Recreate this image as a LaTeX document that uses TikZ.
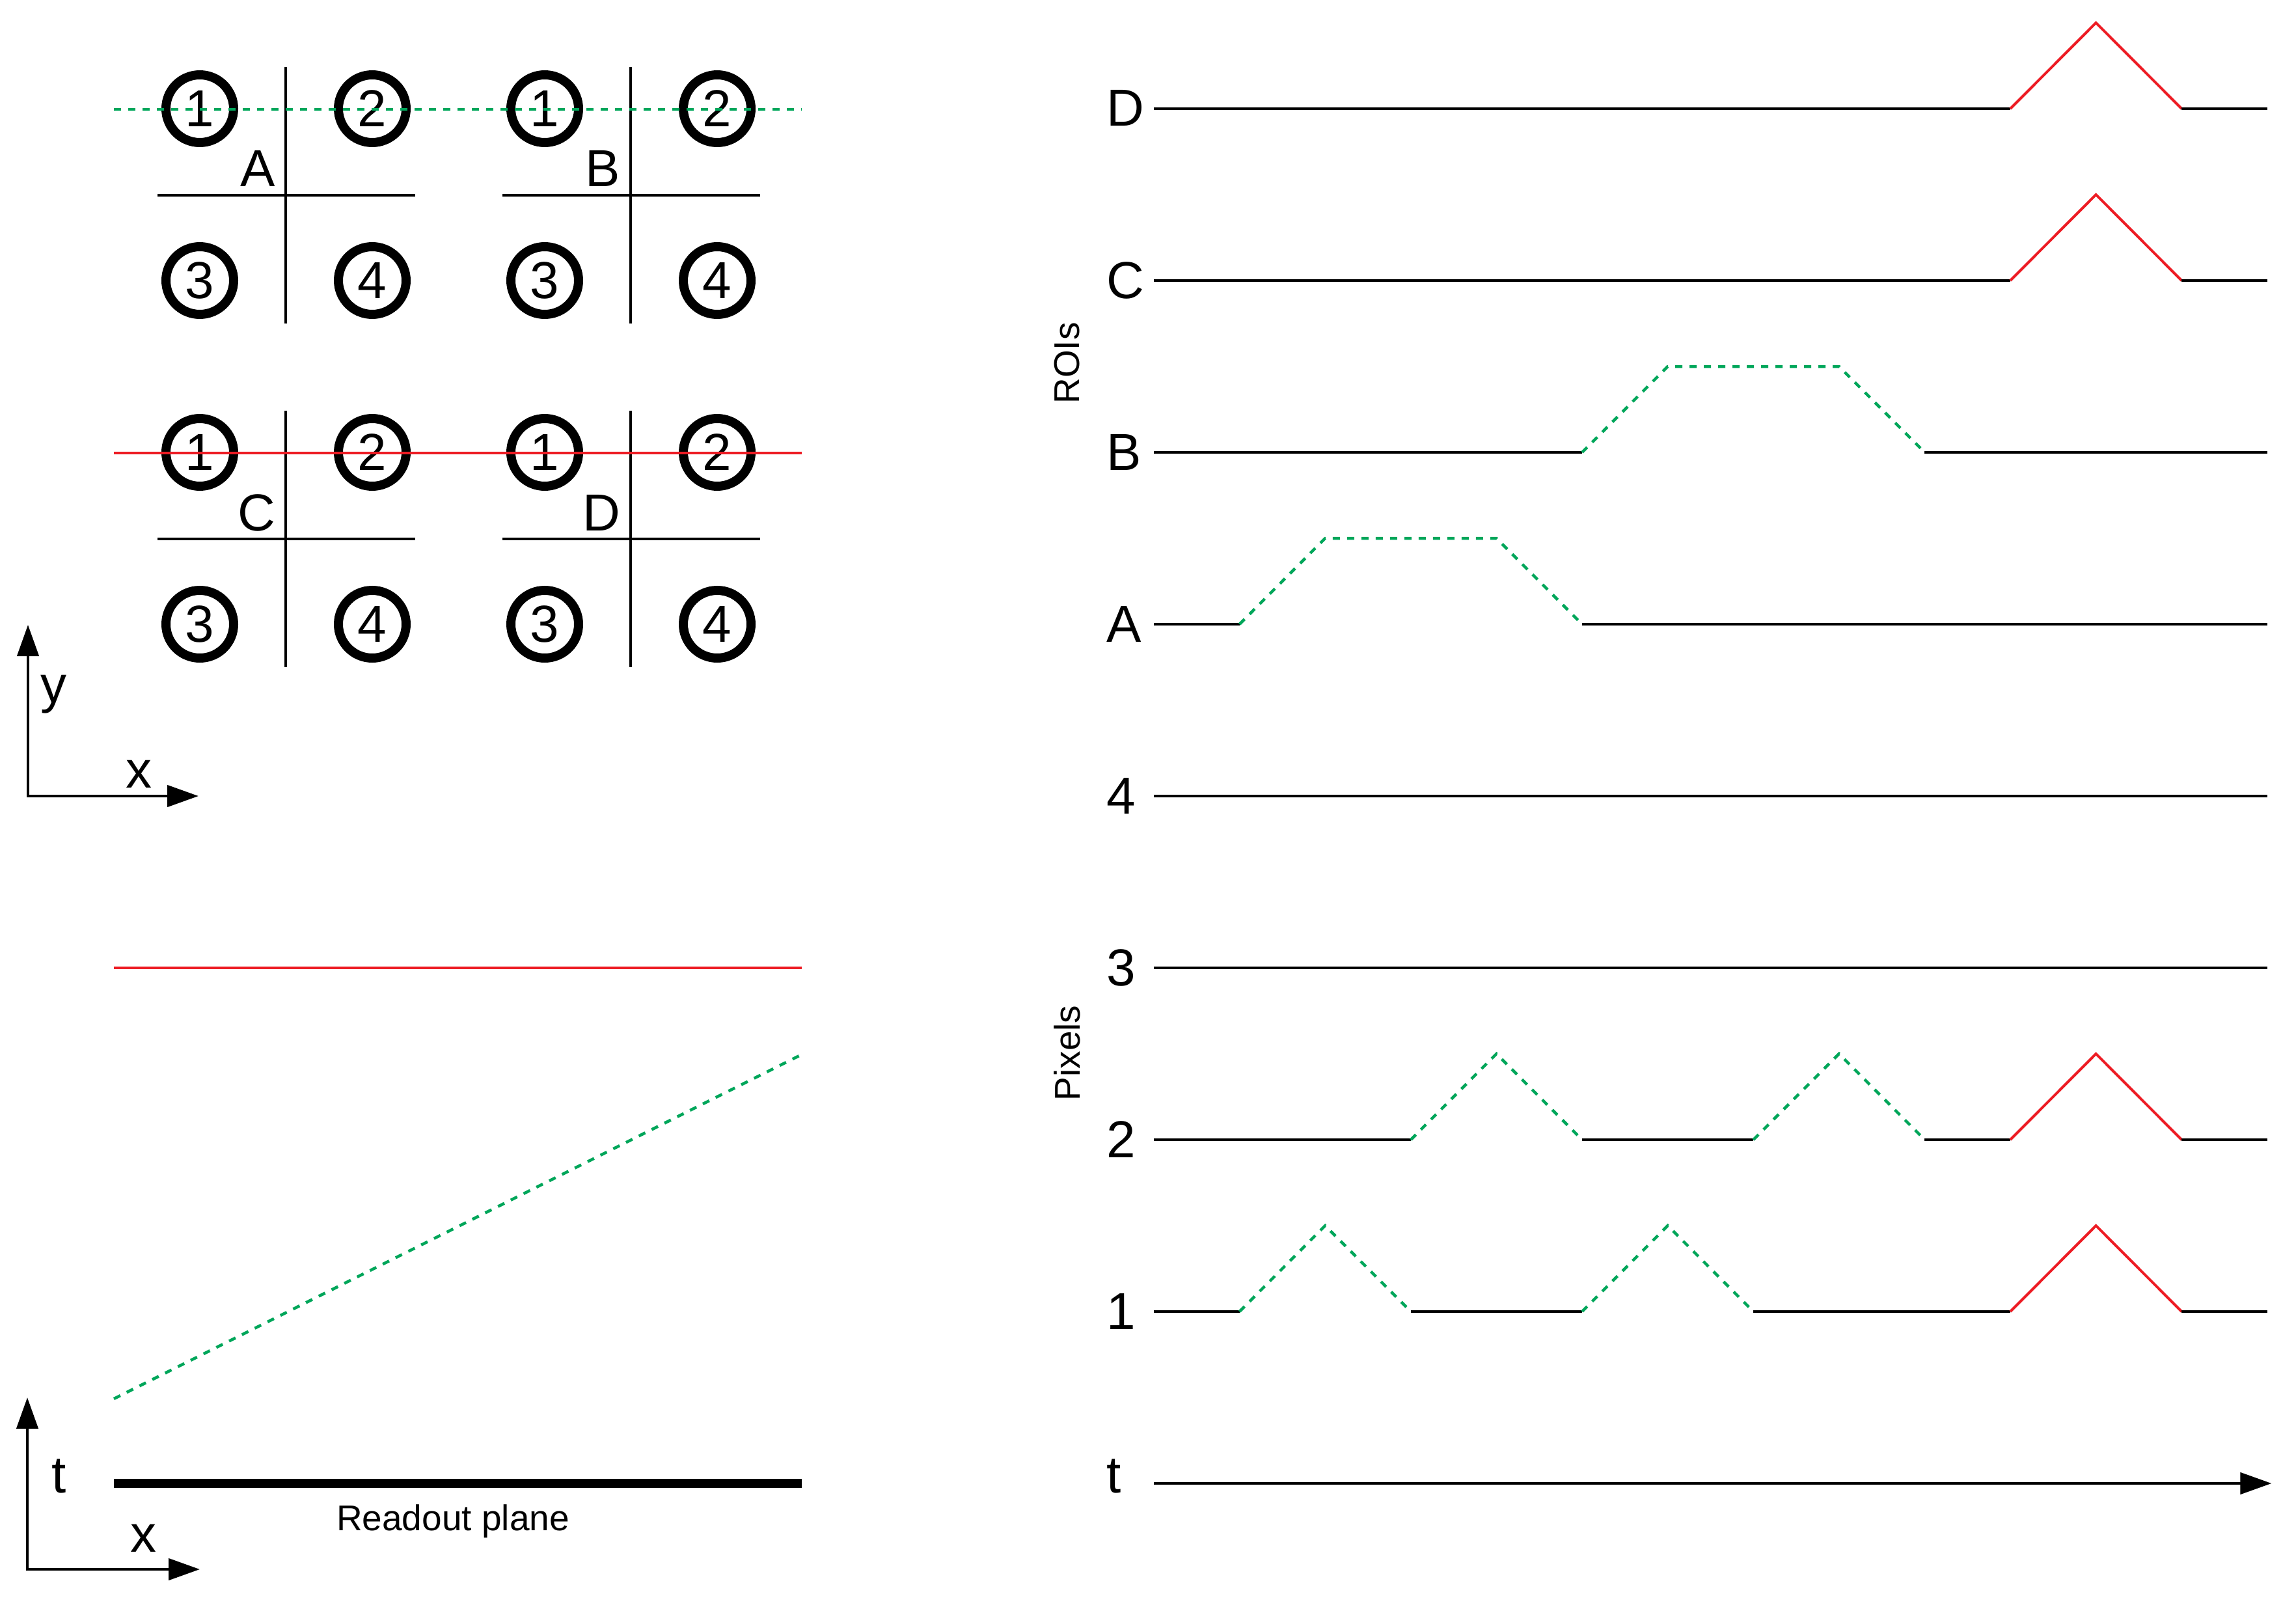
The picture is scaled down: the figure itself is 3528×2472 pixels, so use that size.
\documentclass[tikz,border=0pt]{standalone}
\usepackage{fontspec}
\setmainfont{Liberation Sans}
\usetikzlibrary{arrows.meta}
\definecolor{grn}{RGB}{0,166,90}
\definecolor{rd}{RGB}{237,28,36}
\begin{document}
\begin{tikzpicture}[x=1pt,y=-1pt,
  blk/.style={line width=4.5pt,black},
  grnline/.style={line width=4.5pt,grn,dash pattern=on 11pt off 11pt},
  redline/.style={line width=4pt,rd},
  pix/.style={circle,draw,line width=14pt,minimum size=104pt,inner sep=0pt,font=\fontsize{80}{80}\selectfont},
  lbl/.style={font=\fontsize{80}{80}\selectfont,inner sep=0pt},
  small/.style={font=\fontsize{55}{55}\selectfont,inner sep=0pt},
  axis/.style={line width=4.5pt,{Triangle[length=48pt,width=33pt]}-{Triangle[length=48pt,width=33pt]}},
  arr/.style={line width=4.5pt,-{Triangle[length=48pt,width=33pt]}},
]
\useasboundingbox (0,0) rectangle (3528,2472);

% ---- left: pixel grids ----
\foreach \b/\x/\y in {A/307/167, B/837/167, C/307/695, D/837/695} {
  \node[pix] (\b1) at (\x,\y) {1};
  \node[pix] (\b2) at (\x+265,\y) {2};
  \node[pix] (\b3) at (\x,\y+264) {3};
  \node[pix] (\b4) at (\x+265,\y+264) {4};
  \draw[blk] (\x+132,\y-64) -- (\x+132,\y+330);
  \draw[blk] (\x-65,\y+133) -- (\x+331,\y+133);
  \node[lbl,anchor=base east] (lab\b) at (\x+116,\y+120) {\b};
}
\draw[grnline] (175,168) -- (1232,168);
\draw[redline] (175,696) -- (1232,696);

% top axes
\coordinate (ytip) at (43,960);
\coordinate (o1) at (43,1223);
\coordinate (xtip) at (305,1223);
\draw[axis] (ytip) -- (o1) -- (xtip);
\node[lbl,anchor=base west] (ylab) at (62,1079) {y};
\node[lbl,anchor=base west] (xlab) at (193,1210) {x};

% ---- left bottom: x-t view ----
\draw[redline] (175,1487) -- (1232,1487);
\draw[grnline] (175,2149) -- (1232,1620);
\coordinate (rp1) at (175,2279);
\coordinate (rp2) at (1232,2279);
\draw[line width=14pt] (rp1) -- (rp2);
\node[small,anchor=base] (readout) at (696,2351) {Readout plane};

\coordinate (ttip) at (42,2147);
\coordinate (o2) at (42,2411);
\coordinate (x2tip) at (307,2411);
\draw[axis] (ttip) -- (o2) -- (x2tip);
\node[lbl,anchor=base west] (tlab) at (79,2293) {t};
\node[lbl,anchor=base west] (x2lab) at (200,2384) {x};

% ---- right: signals ----
\node[small,rotate=90] (rois) at (1640,558) {ROIs};
\node[small,rotate=90] (pixels) at (1640,1618) {Pixels};
\foreach \n/\y in {D/167, C/431, B/695, A/959, 4/1223, 3/1487, 2/1751, 1/2015} {
  \node[lbl,anchor=base west] (r\n) at (1700,\y+27) {\n};
}
\node[lbl,anchor=base west] (rt) at (1700,2293) {t};

\begin{scope}[shift={(1773,0)},x=131.6pt]
  % D
  \draw[blk] (0,167) -- (10,167);
  \draw[redline] (10,167) -- (11,35) -- (12,167);
  \draw[blk] (12,167) -- (13,167);
  % C
  \draw[blk] (0,431) -- (10,431);
  \draw[redline] (10,431) -- (11,299) -- (12,431);
  \draw[blk] (12,431) -- (13,431);
  % B
  \draw[blk] (0,695) -- (5,695);
  \draw[grnline] (5,695) -- (6,563) -- (8,563) -- (9,695);
  \draw[blk] (9,695) -- (13,695);
  % A
  \draw[blk] (0,959) -- (1,959);
  \draw[grnline] (1,959) -- (2,827) -- (4,827) -- (5,959);
  \draw[blk] (5,959) -- (13,959);
  % 4, 3
  \draw[blk] (0,1223) -- (13,1223);
  \draw[blk] (0,1487) -- (13,1487);
  % 2
  \draw[blk] (0,1751) -- (3,1751);
  \draw[grnline] (3,1751) -- (4,1619) -- (5,1751);
  \draw[blk] (5,1751) -- (7,1751);
  \draw[grnline] (7,1751) -- (8,1619) -- (9,1751);
  \draw[blk] (9,1751) -- (10,1751);
  \draw[redline] (10,1751) -- (11,1619) -- (12,1751);
  \draw[blk] (12,1751) -- (13,1751);
  % 1
  \draw[blk] (0,2015) -- (1,2015);
  \draw[grnline] (1,2015) -- (2,1883) -- (3,2015);
  \draw[blk] (3,2015) -- (5,2015);
  \draw[grnline] (5,2015) -- (6,1883) -- (7,2015);
  \draw[blk] (7,2015) -- (10,2015);
  \draw[redline] (10,2015) -- (11,1883) -- (12,2015);
  \draw[blk] (12,2015) -- (13,2015);
  % t axis
  \coordinate (t0) at (0,2279);
  \coordinate (t1) at (13.05,2279);
  \draw[arr] (t0) -- (t1);
\end{scope}
\end{tikzpicture}
\end{document}
